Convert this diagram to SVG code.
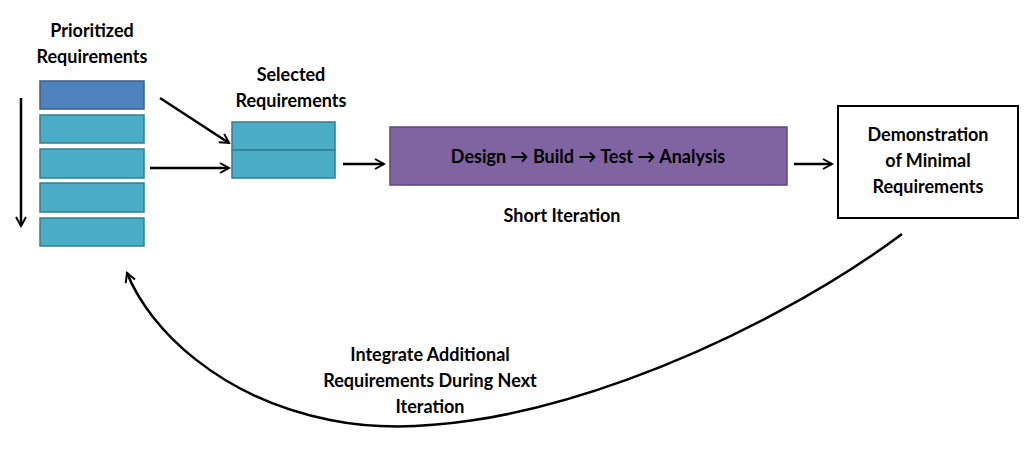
<svg xmlns="http://www.w3.org/2000/svg" width="1024" height="454" viewBox="0 0 1024 454">
<defs><marker id="a" viewBox="0 0 12 12" refX="10" refY="6" markerWidth="12" markerHeight="12" markerUnits="userSpaceOnUse" orient="auto"><path d="M1,1 L10,6 L1,11" fill="none" stroke="#000" stroke-width="2"/></marker></defs>
<style>.t{font-family:Lato,"Open Sans",sans-serif;font-weight:bold;font-size:18px;fill:#000;text-anchor:middle}.r{fill:#4bacc6;stroke:#357d91;stroke-width:1.5}.c{fill:none;stroke:#000;stroke-width:2.5;marker-end:url(#a)}</style>
<rect width="1024" height="454" fill="#fff"/>
<g id="prioritized">
<text class="t" x="92" y="37">Prioritized</text><text class="t" x="92" y="63">Requirements</text>
<rect x="40" y="81" width="104" height="28" fill="#4f81bd" stroke="#385d8a" stroke-width="1.5"/>
<rect class="r" x="40" y="115" width="104" height="28"/>
<rect class="r" x="40" y="149" width="104" height="29"/>
<rect class="r" x="40" y="183" width="104" height="29"/>
<rect class="r" x="40" y="218" width="104" height="28"/>
</g>
<g id="selected">
<text class="t" x="291" y="81">Selected</text><text class="t" x="291" y="107">Requirements</text>
<rect class="r" x="232" y="122" width="103" height="28"/>
<rect class="r" x="232" y="150" width="103" height="28"/>
</g>
<g id="iteration">
<rect x="390" y="127" width="397" height="58" fill="#8064a2" stroke="#5c4776" stroke-width="1.5"/>
<text class="t" x="588" y="163">Design → Build → Test → Analysis</text>
<text class="t" x="562" y="222">Short Iteration</text>
</g>
<g id="demo">
<rect x="838" y="106" width="180" height="112" fill="#fff" stroke="#000" stroke-width="2"/>
<text class="t" x="928" y="141">Demonstration</text><text class="t" x="928" y="167">of Minimal</text><text class="t" x="928" y="193">Requirements</text>
</g>
<g id="loop-label"><text class="t" x="430" y="361">Integrate Additional</text><text class="t" x="430" y="387">Requirements During Next</text><text class="t" x="430" y="413">Iteration</text></g>
<g id="connectors">
<path class="c" d="M21,98 L21,226"/>
<path class="c" d="M160,98 L229,143"/>
<path class="c" d="M150,168 L229,168"/>
<path class="c" d="M343,164 L384,164"/>
<path class="c" d="M794,164 L832,164"/>
<path class="c" d="M902,234 C760,340 500,455 330,420 C220,398 150,330 127,273"/>
</g>
</svg>
